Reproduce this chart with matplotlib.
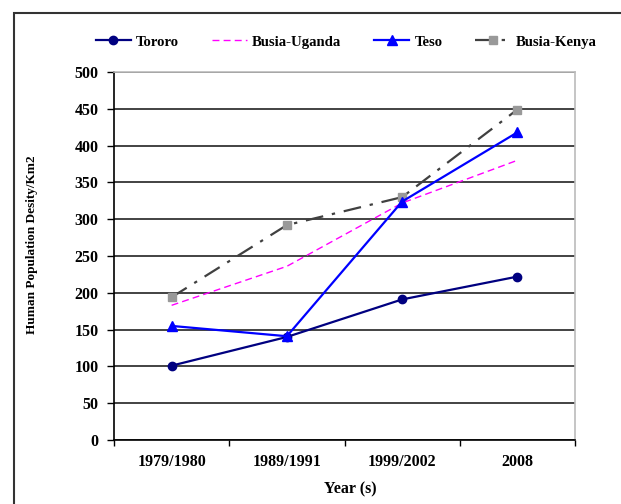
import matplotlib
matplotlib.use("Agg")
import matplotlib.pyplot as plt
from matplotlib.patches import Rectangle

categories = ["1979/1980", "1989/1991", "1999/2002", "2008"]
tororo = [101, 140, 191, 222]
busia_uganda = [183, 236, 322, 380]
teso = [155, 141, 324, 418]
busia_kenya = [194, 292, 330, 449]
yticks = [0, 50, 100, 150, 200, 250, 300, 350, 400, 450, 500]

plt.rcParams['font.family'] = ['Liberation Serif', 'DejaVu Serif']
plt.rcParams['font.weight'] = 'bold'

W, H = 621, 504
fig = plt.figure(figsize=(W / 100, H / 100), dpi=100)
L, R, T, B = 114, 575, 72, 440
ax = fig.add_axes([L / W, 1 - B / H, (R - L) / W, (B - T) / H])

x = list(range(len(categories)))
l1, = ax.plot(x, tororo, color='#000080', marker='o', markersize=6, lw=1.6, label='Tororo', zorder=5)
l2, = ax.plot(x, busia_uganda, color='#FF00FF', ls=(0, (5, 3)), lw=1.0, label='Busia-Uganda', zorder=4)
l3, = ax.plot(x, teso, color='#0000FF', marker='^', markersize=7.5, lw=1.6, label='Teso', zorder=6)
l4, = ax.plot(x, busia_kenya, color='#404040', ls=(0, (8, 4, 1.5, 4)), lw=1.6,
              marker='s', markersize=6, markerfacecolor='#999999', markeredgecolor='#999999',
              label='Busia-Kenya', zorder=3)

ax.set_xlim(-0.5, 3.5)
ax.set_ylim(0, 500)
ax.set_yticks(yticks)
ax.set_yticklabels([str(v) for v in yticks], fontsize=11.5, fontweight='bold')
ax.set_xticks(x)
ax.set_xticklabels(categories, fontsize=11.5, fontweight='bold')
ax.set_xticks([-0.5, 0.5, 1.5, 2.5, 3.5], minor=True)
ax.tick_params(axis='x', which='major', length=0, pad=10)
ax.tick_params(axis='x', which='minor', length=4, width=1, color='black', direction='out')
ax.tick_params(axis='y', length=5, width=1, direction='out', pad=6)
ax.yaxis.grid(True, color='#222222', lw=1.2)
ax.set_axisbelow(True)
for s in ['left', 'bottom']:
    ax.spines[s].set_color('black')
    ax.spines[s].set_linewidth(1.2)
for s in ['top', 'right']:
    ax.spines[s].set_color('#BBBBBB')
    ax.spines[s].set_linewidth(1.2)

ax.set_xlabel('Year (s)', fontsize=11.5, fontweight='bold')
ax.xaxis.set_label_coords((350 - L) / (R - L), (B - 481) / (B - T))
ax.set_ylabel('Human Population Desity/Km2', fontsize=9.5, fontweight='bold')
ax.yaxis.set_label_coords((38 - L) / (R - L), (B - 245) / (B - T))

fig.legend(handles=[l1, l2, l3, l4], loc='center', bbox_to_anchor=(346 / W, 1 - 42 / H),
           ncol=4, frameon=False, fontsize=10.6, handlelength=2.4, columnspacing=2.2,
           handletextpad=0.35)

fig.patches.append(Rectangle((14 / W, -0.1), 1.2, 1 - 13 / H + 0.1, transform=fig.transFigure,
                             fill=False, edgecolor='#333333', lw=1.5))

fig.savefig('out.png', dpi=100)
